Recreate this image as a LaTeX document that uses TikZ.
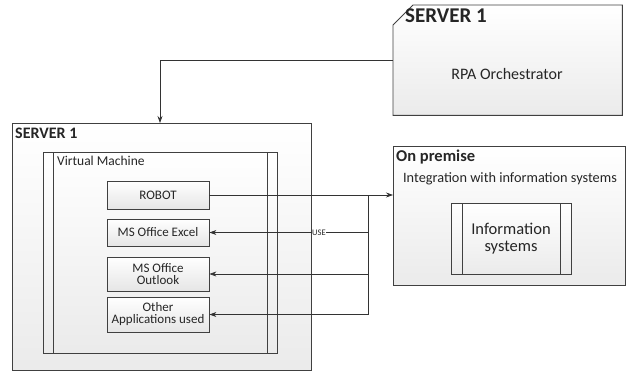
\documentclass[tikz,border=0pt]{standalone}
\usepackage{fontspec}
\setmainfont{Carlito}
\usetikzlibrary{arrows.meta,calc}
\newcommand{\fsz}[1]{\fontsize{#1}{#1}\selectfont}
\begin{document}
\begin{tikzpicture}[x=1pt,y=-1pt,
  box/.style={draw=black!75, line width=0.8pt, top color=white, bottom color=black!8, inner sep=0pt, anchor=north west},
  appbox/.style={draw=black!75, line width=0.8pt, top color=white, bottom color=black!10, inner sep=0pt, minimum width=102pt, align=center, text=black!85, font=\fsz{13}},
  arr/.style={draw=black!80, line width=0.7pt, -{Stealth[length=7pt,width=5pt]}},
  wire/.style={draw=black!80, line width=0.7pt},
  lbl/.style={text=black!85, inner sep=0pt}]
\useasboundingbox (0,0) rectangle (627,372);
% top server
\node[inner sep=0pt, minimum width=229pt, minimum height=110pt, anchor=north west] (orch) at (393,5) {};
\draw[draw=black!75, line width=0.9pt, top color=white, bottom color=black!8]
  ($(orch.north west)+(20,0)$) -- (orch.north east) -- (orch.south east) -- (orch.south west) -- ($(orch.north west)+(0,20)$) -- cycle;
\node[lbl, anchor=north west, font=\bfseries\fsz{21}] (orchtitle) at (405,9) {SERVER 1};
\node[lbl, font=\fsz{16}] (orchtxt) at (507,74) {RPA Orchestrator};
% left server
\node[box, minimum width=299pt, minimum height=247pt] (srvL) at (12,123) {};
\node[lbl, anchor=north west, font=\bfseries\fsz{16}] (srvLtitle) at (15,128) {SERVER 1};
% virtual machine
\node[box, minimum width=234pt, minimum height=201pt] (vm) at (43,152) {};
\draw[black!75, line width=0.8pt] (vm.north west) ++(10,0) -- ++(0,201);
\draw[black!75, line width=0.8pt] (vm.north east) ++(-10,0) -- ++(0,201);
\node[lbl, anchor=north west, font=\fsz{13.5}] (vmtitle) at (57,156) {Virtual Machine};
% apps
\node[appbox, minimum height=28pt] (robot) at (158,195) {ROBOT};
\node[appbox, minimum height=27pt] (excel) at (158,232.5) {MS Office Excel};
\node[appbox, minimum height=34pt] (outlook) at (158,274) {MS Office\\[-1pt]Outlook};
\node[appbox, minimum height=35pt] (other) at (158,314.5) {Other\\[-1pt]Applications used};
% on premise
\node[box, minimum width=232pt, minimum height=139pt] (onprem) at (393,146) {};
\node[lbl, anchor=north west, font=\bfseries\fsz{16.5}] (optitle) at (396,150) {On premise};
\node[lbl, font=\fsz{14.3}] (integ) at (510,179) {Integration with information systems};
\node[box, minimum width=120pt, minimum height=71pt] (info) at (451,203) {};
\draw[black!75, line width=0.8pt] (info.north west) ++(11,0) -- ++(0,71);
\draw[black!75, line width=0.8pt] (info.north east) ++(-11,0) -- ++(0,71);
\node[lbl, align=center, font=\fsz{16.5}] (infotxt) at (511,238.5) {Information\\[1pt]systems};
% connectors
\coordinate (drop) at (160,123);
\draw[arr] (orch.west) -| (drop);
\draw[arr] (robot.east) -- (robot.east -| onprem.west);
\coordinate (bt) at (368,195);
\coordinate (bb) at (368,314.5);
\draw[wire] (bt) -- (bb);
\draw[arr] (bt |- excel.east) -- (excel.east);
\draw[arr] (bt |- outlook.east) -- (outlook.east);
\draw[arr] (bb) -- (other.east);
\node[lbl, fill=white, inner sep=0.5pt, font=\fsz{8.5}] (use) at (319,232.5) {USE};
\end{tikzpicture}
\end{document}
